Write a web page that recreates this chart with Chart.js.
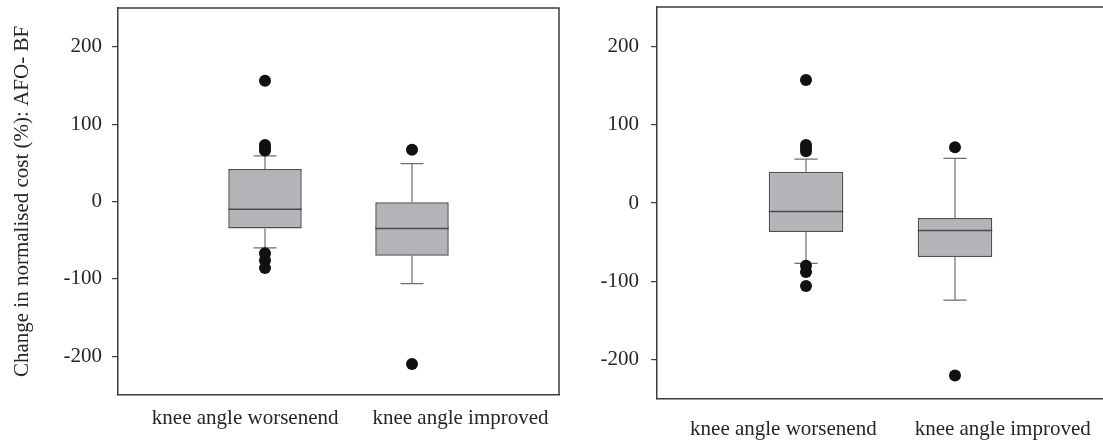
<!DOCTYPE html>
<html><head><meta charset="utf-8">
<script src="https://cdn.jsdelivr.net/npm/chart.js@4/dist/chart.umd.min.js"></script>
<style>
html,body{margin:0;padding:0;background:#fff;overflow:hidden;width:1103px;height:440px;}
canvas{position:absolute;top:0;}
#c1{left:0;} #c2{left:570px;}
</style></head><body>
<canvas id="c1" width="565" height="440" style="width:565px;height:440px"></canvas>
<canvas id="c2" width="540" height="440" style="width:540px;height:440px"></canvas>
<script>
// ---- data ----
const categories = ['knee angle worsenend', 'knee angle improved'];
const yTicks = [-200, -100, 0, 100, 200];
const yTitle = 'Change in normalised cost (%): AFO- BF';

// left panel
const leftQ1 = [-35, -70];
const leftMedian = [-10, -35];
const leftQ3 = [42, -1];
const leftWhiskerLow = [-60, -106];
const leftWhiskerHigh = [59, 49];
const leftOutliersWorse = [156, 73, 69, 66, -67, -76, -86];
const leftOutliersImproved = [67, -210];

// right panel
const rightQ1 = [-37, -69];
const rightMedian = [-11, -35];
const rightQ3 = [40, -19];
const rightWhiskerLow = [-77, -124];
const rightWhiskerHigh = [56, 57];
const rightOutliersWorse = [157, 74, 70, 66, -80, -88, -106];
const rightOutliersImproved = [71, -220];

// ---- style ----
const FONT = "'Liberation Serif', 'Times New Roman', serif";
const TEXT = '#262626';
const FRAME = '#3c3c3c';
const BOX_HALF = 0.25;
const CAP_HALF = 0.078;

function makePlugin(p) {
  return {
    id: 'boxparts',
    beforeDatasetsDraw(chart) {
      const {ctx, scales: {x, y}} = chart;
      ctx.save();
      ctx.strokeStyle = '#6e6e6e';
      ctx.lineWidth = 1.2;
      p.q1.forEach((_, i) => {
        const c = i + 1;
        const cx = x.getPixelForValue(c);
        const l = x.getPixelForValue(c - CAP_HALF), r = x.getPixelForValue(c + CAP_HALF);
        const yh = y.getPixelForValue(p.hi[i]), yl = y.getPixelForValue(p.lo[i]);
        ctx.beginPath();
        ctx.moveTo(cx, y.getPixelForValue(p.q3[i])); ctx.lineTo(cx, yh);
        ctx.moveTo(cx, y.getPixelForValue(p.q1[i])); ctx.lineTo(cx, yl);
        ctx.moveTo(l, yh); ctx.lineTo(r, yh);
        ctx.moveTo(l, yl); ctx.lineTo(r, yl);
        ctx.stroke();
      });
      ctx.restore();
    },
    afterDatasetsDraw(chart) {
      const {ctx, scales: {x, y}} = chart;
      ctx.save();
      ctx.strokeStyle = '#4a4a4a';
      ctx.lineWidth = 1.5;
      p.med.forEach((m, i) => {
        const c = i + 1;
        const ym = y.getPixelForValue(m);
        ctx.beginPath();
        ctx.moveTo(x.getPixelForValue(c - BOX_HALF), ym);
        ctx.lineTo(x.getPixelForValue(c + BOX_HALF), ym);
        ctx.stroke();
      });
      ctx.restore();
    },
    afterDraw(chart) {
      const {ctx, chartArea: a} = chart;
      ctx.save();
      ctx.strokeStyle = FRAME;
      ctx.lineWidth = 1.5;
      ctx.beginPath();
      ctx.moveTo(a.left, a.top); ctx.lineTo(a.right, a.top); ctx.lineTo(a.right, a.bottom);
      ctx.stroke();
      ctx.restore();
    }
  };
}

function makeChart(id, p, cfg) {
  const boxData = categories.map((c, i) => ({x: i + 1, y: [p.q1[i], p.q3[i]]}));
  const outData = p.outA.map(v => ({x: 1, y: v})).concat(p.outB.map(v => ({x: 2, y: v})));
  return new Chart(document.getElementById(id), {
    type: 'bar',
    data: {
      datasets: [
        {type: 'scatter', data: outData, pointRadius: 6, pointHoverRadius: 6,
         backgroundColor: '#111', borderWidth: 0, pointBorderWidth: 0},
        {type: 'bar', data: boxData, backgroundColor: '#b3b4b7', borderColor: '#505050',
         borderWidth: 1.5, borderSkipped: false, categoryPercentage: 1, barPercentage: 0.5}
      ]
    },
    options: {
      responsive: false,
      animation: false,
      events: [],
      layout: {padding: cfg.pad},
      plugins: {legend: {display: false}, tooltip: {enabled: false}},
      scales: {
        x: {
          type: 'linear', min: 0, max: 3, offset: false,
          afterBuildTicks: s => { s.ticks = cfg.labelPos.map(v => ({value: v})); },
          afterFit: s => { s.height = cfg.xAxisH; s.paddingLeft = 0; s.paddingRight = 0; },
          grid: {display: false, drawTicks: false, offset: false},
          border: {display: true, color: FRAME, width: 1.5},
          ticks: {autoSkip: false, maxRotation: 0, minRotation: 0, padding: cfg.xLabelPad, color: TEXT,
                  font: {family: FONT, size: 21}, callback: (v, i) => categories[i]}
        },
        y: {
          type: 'linear', min: -250, max: 250,
          afterBuildTicks: s => { s.ticks = yTicks.map(v => ({value: v})); },
          afterFit: s => { s.width = cfg.yAxisW; s.paddingTop = 0; s.paddingBottom = 0; },
          grid: {display: true, drawOnChartArea: false, drawTicks: true, tickLength: 6, color: FRAME, lineWidth: 1.2},
          border: {display: true, color: FRAME, width: 1.5},
          ticks: {padding: cfg.yLabelPad, color: TEXT, font: {family: FONT, size: 21}, callback: v => String(v)},
          title: {display: cfg.showTitle, text: yTitle, color: TEXT, font: {family: FONT, size: 21},
                  padding: {top: 10, bottom: 0}}
        }
      }
    },
    plugins: [makePlugin(p)]
  });
}

makeChart('c1', {q1: leftQ1, med: leftMedian, q3: leftQ3, lo: leftWhiskerLow, hi: leftWhiskerHigh,
                 outA: leftOutliersWorse, outB: leftOutliersImproved},
  {pad: {top: 8, right: 5, bottom: 0, left: 0}, yAxisW: 118, xAxisH: 45, xLabelPad: 11, yLabelPad: 10,
   labelPos: [0.865, 2.33], showTitle: true});

makeChart('c2', {q1: rightQ1, med: rightMedian, q3: rightQ3, lo: rightWhiskerLow, hi: rightWhiskerHigh,
                 outA: rightOutliersWorse, outB: rightOutliersImproved},
  {pad: {top: 7, right: 0, bottom: 0, left: 0}, yAxisW: 87, xAxisH: 41, xLabelPad: 18, yLabelPad: 12,
   labelPos: [0.848, 2.32], showTitle: false});
</script>
</body></html>
